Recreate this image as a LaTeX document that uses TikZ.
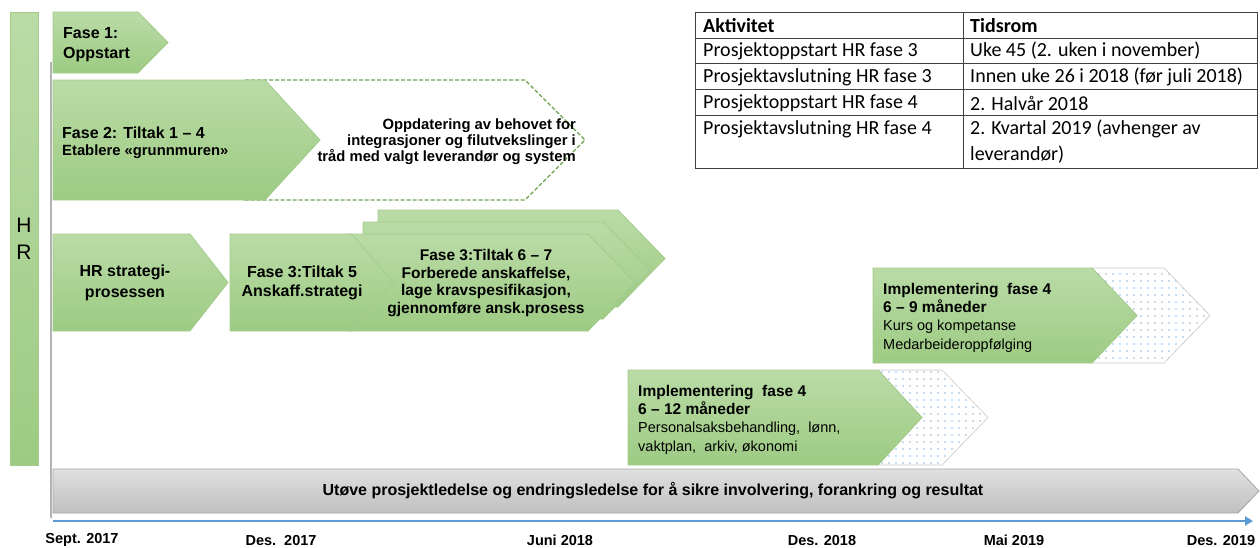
\documentclass[tikz,border=0pt]{standalone}
\usepackage{fontspec}
\setmainfont{Liberation Sans}
\newfontfamily\calfont{Carlito}
\usetikzlibrary{patterns.meta,arrows.meta}
\definecolor{gtop}{HTML}{BADBA6}
\definecolor{gbot}{HTML}{9DCB83}
\definecolor{gline}{HTML}{A3CB8C}
\definecolor{gdash}{HTML}{6FA050}
\definecolor{dotblue}{HTML}{8FB8E3}
\definecolor{greyb}{HTML}{A6A6A6}
\definecolor{axisblue}{HTML}{5B9BD5}
\definecolor{tblline}{HTML}{404040}
\newcommand\chevpath[6][]{%
  \path[#1] (#2,#3) -- (#5,#3) -- (#6,{(#3+#4)/2}) -- (#5,#4) -- (#2,#4) -- cycle;}
\begin{document}
\begin{tikzpicture}[x=1pt,y=-1pt,
  greenbox/.style={top color=gtop,bottom color=gbot,draw=gline,line width=0.8pt},
  dotbox/.style={preaction={fill=white},draw=black!22,line width=0.6pt,
    pattern={Dots[distance=7pt,radius=0.85pt]},pattern color=dotblue},
  dashbox/.style={draw=gdash,line width=1.1pt,dash pattern=on 4pt off 2pt,fill=white},
  greybox/.style={top color=black!12,bottom color=black!25,draw=greyb,line width=0.8pt},
  bl/.style={font=\bfseries\fontsize{16}{20}\selectfont,inner sep=0pt},
  nl/.style={font=\fontsize{14.5}{18.5}\selectfont,inner sep=0pt,align=left},
  tb/.style={font=\calfont\fontsize{20}{24}\selectfont,inner sep=0pt,anchor=west},
  ax/.style={font=\bfseries\fontsize{14.5}{16}\selectfont,inner sep=0pt}]
\useasboundingbox (0,0) rectangle (1260,547);

% HR bar
\path[greenbox] (10,12) rectangle (38,465);
\node[font=\fontsize{21}{22}\selectfont,inner sep=0pt] (hrH) at (24,225) {H};
\node[font=\fontsize{21}{22}\selectfont,inner sep=0pt] (hrR) at (24,252) {R};

% vertical time line
\coordinate (v0) at (51,62);
\coordinate (v1) at (51,518);
\draw[black!30,line width=1.2pt] (v0) -- (v1);

% Fase 1
\chevpath[greenbox]{53}{12}{73}{138}{168}
\node[bl,anchor=west,align=left] (f1) at (63,45) {Fase 1:\\Oppstart};

% dashed extension of Fase 2
\chevpath[dashbox]{245}{80}{200}{525}{585}
\node[bl,anchor=east,align=right,font=\bfseries\fontsize{14.8}{16}\selectfont] (upd) at (576,142)
  {Oppdatering av behovet for\\integrasjoner og filutvekslinger i\\tråd med valgt leverandør og system};

% Fase 2
\chevpath[greenbox]{53}{80}{200}{265}{320}
\node[bl,anchor=west] (f2a) at (62,133) {Fase 2: Tiltak 1 – 4};
\node[bl,anchor=west,font=\bfseries\fontsize{14.8}{16}\selectfont] (f2b) at (62,152) {Etablere «grunnmuren»};

% HR strategi
\chevpath[greenbox]{53}{234}{331}{190}{228}
\node[bl,align=center,font=\bfseries\fontsize{16}{21}\selectfont] (hrs) at (125,283) {HR strategi-\\prosessen};

% Fase 3 Tiltak 6-7 (stacked)
\chevpath[greenbox]{378}{210}{307}{618}{665}
\chevpath[greenbox]{363}{222}{319}{603}{650}
\chevpath[greenbox]{348}{234}{331}{588}{635}
% Fase 3 Tiltak 5
\chevpath[greenbox]{230}{234}{331}{352}{393}
\node[bl,align=center,font=\bfseries\fontsize{16}{19}\selectfont] (t5) at (302,283) {Fase 3:Tiltak 5\\Anskaff.strategi};
\node[bl,align=center,font=\bfseries\fontsize{15.5}{17.8}\selectfont] (t67) at (486,283)
  {Fase 3:Tiltak 6 – 7\\Forberede anskaffelse,\\lage kravspesifikasjon,\\gjennomføre ansk.prosess};

% Implementering fase 4 (upper)
\path[dotbox] (1092,268) -- (1164,268) -- (1210,315.5) -- (1164,363) -- (1092,363) -- (1137,315.5) -- cycle;
\chevpath[greenbox]{873}{268}{363}{1092}{1137}
\node[bl,anchor=west,align=left,font=\bfseries\fontsize{15.5}{18.5}\selectfont] (i1a) at (883,298) {Implementering\ \ fase 4\\6 – 9 måneder};
\node[nl,anchor=west] (i1b) at (883,336) {Kurs og kompetanse\\Medarbeideroppfølging};

% Implementering fase 4 (lower)
\path[dotbox] (878,370) -- (942,370) -- (988,417.5) -- (942,465) -- (878,465) -- (922,417.5) -- cycle;
\chevpath[greenbox]{628}{370}{465}{878}{922}
\node[bl,anchor=west,align=left,font=\bfseries\fontsize{15.5}{18.5}\selectfont] (i2a) at (638,400) {Implementering\ \ fase 4\\6 – 12 måneder};
\node[nl,anchor=west] (i2b) at (638,438) {Personalsaksbehandling,\ \ lønn,\\vaktplan,\ \ arkiv, økonomi};

% bottom grey arrow
\chevpath[greybox]{53}{469}{513}{1238}{1259}
\node[bl] (lead) at (653,491)
  {Utøve prosjektledelse og endringsledelse for å sikre involvering, forankring og resultat};

% blue time axis
\coordinate (ax0) at (53,521);
\coordinate (ax1) at (1253,521);
\draw[axisblue,line width=2.6pt,-{Triangle[length=8pt,width=9pt]}] (ax0) -- (ax1);

% axis labels
\node[ax] (d1) at (82,540) {Sept. 2017};
\node[ax] (d2) at (281,540) {Des.\ \ 2017};
\node[ax] (d3) at (560,540) {Juni 2018};
\node[ax] (d4) at (822,540) {Des. 2018};
\node[ax] (d5) at (1014,540) {Mai 2019};
\node[ax] (d6) at (1221,540) {Des. 2019};

% table
\draw[tblline,line width=1pt] (695,12) rectangle (1257,168);
\foreach \yy in {38,63,89,115} \draw[tblline,line width=0.8pt] (695,\yy) -- (1257,\yy);
\draw[tblline,line width=0.8pt] (963,12) -- (963,168);
\node[tb,font=\calfont\bfseries\fontsize{20}{24}\selectfont] (h1) at (703,26) {Aktivitet};
\node[tb,font=\calfont\bfseries\fontsize{20}{24}\selectfont] (h2) at (970,26) {Tidsrom};
\node[tb] (a1) at (703,51) {Prosjektoppstart HR fase 3};
\node[tb] (b1) at (970,51) {Uke 45 (2. uken i november)};
\node[tb] (a2) at (703,77) {Prosjektavslutning HR fase 3};
\node[tb] (b2) at (970,77) {Innen uke 26 i 2018 (før juli 2018)};
\node[tb] (a3) at (703,103) {Prosjektoppstart HR fase 4};
\node[tb] (b3) at (970,103) {2. Halvår 2018};
\node[tb] (a4) at (703,129) {Prosjektavslutning HR fase 4};
\node[tb] (b4) at (970,129) {2. Kvartal 2019 (avhenger av};
\node[tb] (b5) at (970,155) {leverandør)};
\end{tikzpicture}
\end{document}
